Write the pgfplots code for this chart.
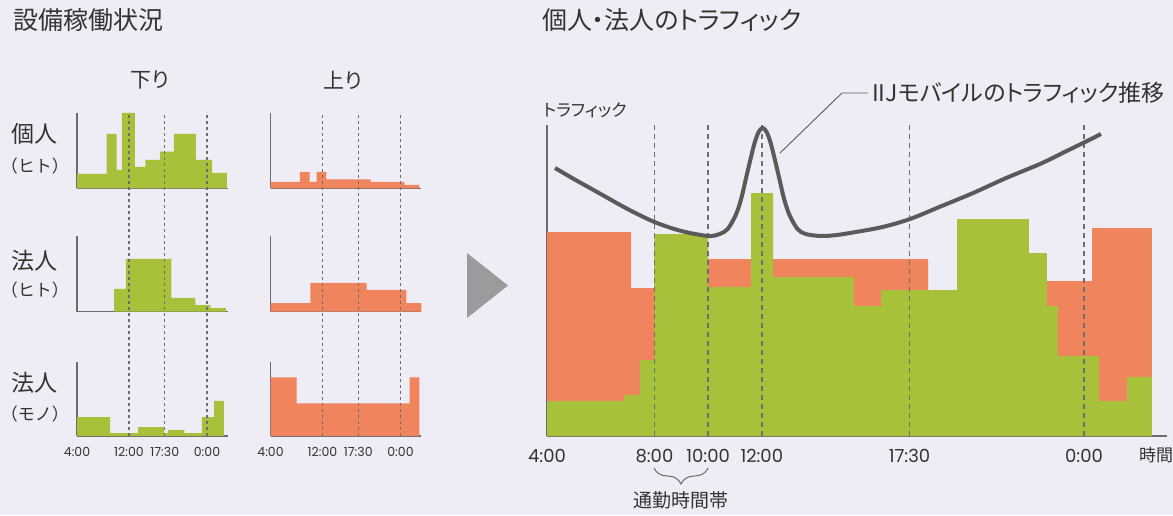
\documentclass[border=0pt]{standalone}
\usepackage{fontspec}
\setmainfont{Poppins}
\newfontfamily\jp[RawFeature=+palt]{Noto Sans CJK JP}
\newfontfamily\jpf{Noto Sans CJK JP}
\usepackage{pgfplots}
\pgfplotsset{compat=1.18}
\usetikzlibrary{decorations.pathreplacing}
\definecolor{bg}{HTML}{EEECF4}
\definecolor{grn}{HTML}{A8C13A}
\definecolor{org}{HTML}{F0855D}
\definecolor{axgray}{HTML}{6B6B6B}
\definecolor{curvegray}{HTML}{5A5A5A}
\definecolor{txt}{HTML}{333333}
\definecolor{dashgray}{HTML}{6E6E6E}
\definecolor{arrowgray}{HTML}{9B9B9B}
\pgfplotsset{
  small/.style={scale only axis, width=150.8pt, xmin=4, xmax=27.2, ymin=0,
    anchor=south west, axis x line*=bottom, axis y line*=left,
    axis line style={draw=axgray, line width=1.4pt},
    xtick=\empty, ytick=\empty, major tick length=0pt},
  smallticks/.style={xtick={4,12,17.5,24}, xticklabels={4:00,12:00,17:30,0:00},
    xticklabel style={font=\fontsize{12.5}{14}\selectfont, text=txt, anchor=base, yshift=-20pt}},
  gfill/.style={const plot, fill=grn, draw=none},
  ofill/.style={const plot, fill=org, draw=none},
  sdash/.style={draw=dashgray, line width=1.2pt, dash pattern=on 3pt off 3pt},
  bdash/.style={draw=dashgray, line width=1.6pt, dash pattern=on 5pt off 4pt},
}
\begin{document}
\begin{tikzpicture}
\fill[bg] (0pt,0pt) rectangle (1173pt,515pt);

% ---- small charts ----
% row 1
\begin{axis}[small, height=75.3pt, ymax=75.3, at={(77pt,326.7pt)}]
\addplot[gfill] coordinates {(4,14.3) (8.57,54.3) (10.1,18.3) (10.9,75.3) (12.9,21.3) (14.5,28.3) (16.8,36.7) (18.9,54.3) (22.3,28.3) (24.8,15.3) (27.05,15.3)} \closedcycle;
\end{axis}
\begin{axis}[small, height=75.3pt, ymax=75.3, at={(270.5pt,326.7pt)}]
\addplot[ofill] coordinates {(4,6.3) (8.5,16.3) (10.0,6.3) (11.1,16.3) (12.6,9) (19.4,6.3) (24.6,3.3) (26.9,3.3)} \closedcycle;
\end{axis}
% row 2
\begin{axis}[small, height=75.7pt, ymax=75.7, at={(77pt,203.3pt)}]
\addplot[gfill] coordinates {(9.7,22.7) (11.5,52.7) (18.5,13.7) (22.2,6.7) (24.5,3.7) (26.9,3.7)} \closedcycle;
\end{axis}
\begin{axis}[small, height=75.7pt, ymax=75.7, at={(270.5pt,203.3pt)}]
\addplot[ofill] coordinates {(4,8.7) (10.15,28.7) (18.8,21.7) (24.9,8.7) (27.2,8.7)} \closedcycle;
\end{axis}
% row 3
\begin{axis}[small, smallticks, height=74.3pt, ymax=74.3, at={(77pt,79pt)}]
\addplot[gfill] coordinates {(4,19) (9.1,3) (13.4,9) (17.4,3) (18.0,6) (20.5,3) (23.2,19) (25.1,35) (26.6,35)} \closedcycle;
\end{axis}
\begin{axis}[small, smallticks, height=74.3pt, ymax=74.3, at={(270.5pt,79pt)}]
\addplot[ofill] coordinates {(4,58.7) (8.0,32.7) (25.4,58.7) (26.9,58.7)} \closedcycle;
\end{axis}
% dashed guides across the small charts
\begin{axis}[scale only axis, width=150.8pt, height=324pt, xmin=4, xmax=27.2, ymin=0, ymax=324, at={(77pt,79pt)}, anchor=south west, hide axis]
\addplot[sdash] coordinates {(12,0) (12,324)};
\addplot[sdash] coordinates {(17.5,0) (17.5,324)};
\addplot[sdash] coordinates {(24,0) (24,324)};
\end{axis}
\begin{axis}[scale only axis, width=150.8pt, height=324pt, xmin=4, xmax=27.2, ymin=0, ymax=324, at={(270.5pt,79pt)}, anchor=south west, hide axis]
\addplot[sdash] coordinates {(12,0) (12,324)};
\addplot[sdash] coordinates {(17.5,0) (17.5,324)};
\addplot[sdash] coordinates {(24,0) (24,324)};
\end{axis}

% ---- big chart ----
\begin{axis}[scale only axis, width=620pt, height=311pt, xmin=4, xmax=27.09, ymin=0, ymax=311,
  at={(547pt,79pt)}, anchor=south west, axis x line*=bottom, axis y line*=left,
  axis line style={draw=axgray, line width=1.5pt}, clip=false,
  xtick={4,8,10,12,17.5,24}, xticklabels={4:00,8:00,10:00,12:00,17:30,0:00},
  major tick length=0pt, ytick=\empty,
  xticklabel style={font=\fontsize{18}{20}\selectfont, text=txt, anchor=base, yshift=-26pt}]
\addplot[ofill] coordinates {(4,204) (7.13,148) (8,190) (10,177) (18.19,140) (22.62,155) (24.3,208) (26.53,208)} \closedcycle;
\addplot[gfill] coordinates {(4,35) (6.87,41) (7.46,76) (8,202) (10,149) (11.6,243) (12.42,159) (15.43,130) (16.44,146) (19.27,217) (21.95,183) (22.62,130) (23.03,80) (24.56,35) (25.6,59) (26.53,59)} \closedcycle;
\addplot[bdash] coordinates {(8,0) (8,311)};
\addplot[bdash] coordinates {(10,0) (10,311)};
\addplot[bdash] coordinates {(12,0) (12,311)};
\addplot[bdash] coordinates {(17.5,0) (17.5,311)};
\addplot[bdash] coordinates {(24,0) (24,311)};
\addplot[smooth, line width=4pt, draw=curvegray] coordinates {(4.3,268) (5.0,257) (6.0,242) (7.0,227) (8.0,214) (9.0,205) (10.0,200) (10.43,202) (10.73,207) (11.03,221) (11.23,237) (11.43,260) (11.58,277) (11.73,293) (11.88,304) (12.03,308) (12.18,304) (12.33,293) (12.48,277) (12.63,260) (12.83,237) (13.03,221) (13.33,207) (13.63,202) (14.2,200) (14.8,201) (15.5,204) (16.5,209) (17.52,217) (18.7,230) (19.87,243) (21.1,258) (22.36,272) (23.2,283) (24.04,294) (24.63,302)};
\end{axis}

% ---- texts ----
\node[anchor=west, text=txt, font=\jp\fontsize{25}{28}\selectfont, inner sep=0] at (13pt,495pt) {設備稼働状況};
\node[anchor=west, text=txt, font=\jp\fontsize{25}{28}\selectfont, inner sep=0] at (542pt,495pt) {個人・法人のトラフィック};
\node[text=txt, font=\jp\fontsize{21}{24}\selectfont, inner sep=0] at (150pt,435pt) {下り};
\node[text=txt, font=\jp\fontsize{21}{24}\selectfont, inner sep=0] at (343pt,435pt) {上り};
\node[text=txt, font=\jp\fontsize{23}{26}\selectfont, inner sep=0] at (35pt,381pt) {個人};
\node[text=txt, font=\jpf\fontsize{17}{20}\selectfont, inner sep=0] at (35pt,349pt) {（ヒト）};
\node[text=txt, font=\jp\fontsize{23}{26}\selectfont, inner sep=0] at (35pt,254pt) {法人};
\node[text=txt, font=\jpf\fontsize{17}{20}\selectfont, inner sep=0] at (35pt,225pt) {（ヒト）};
\node[text=txt, font=\jp\fontsize{23}{26}\selectfont, inner sep=0] at (35pt,132pt) {法人};
\node[text=txt, font=\jpf\fontsize{17}{20}\selectfont, inner sep=0] at (35pt,101pt) {（モノ）};
\node[anchor=west, text=txt, font=\jp\fontsize{17}{20}\selectfont, inner sep=0] at (543pt,405pt) {トラフィック};
\node[anchor=west, text=txt, font=\jp\fontsize{23}{26}\selectfont, inner sep=0] at (872pt,422pt) {IIJモバイルのトラフィック推移};
\draw[curvegray, line width=0.9pt] (780pt,362pt) -- (842pt,422pt) -- (868pt,422pt);
\node[anchor=west, text=txt, font=\jp\fontsize{17}{20}\selectfont, inner sep=0] at (1139pt,60pt) {時間};
\node[text=txt, font=\jp\fontsize{19}{22}\selectfont, inner sep=0] at (681pt,15pt) {通勤時間帯};
\draw[axgray, line width=1pt, decorate, decoration={brace, mirror, amplitude=16pt}] (654pt,47pt) -- (708pt,47pt);
% arrow
\fill[arrowgray] (467pt,262pt) -- (467pt,197pt) -- (508pt,229.5pt) -- cycle;

\pgfresetboundingbox
\useasboundingbox (0pt,0pt) rectangle (1173pt,515pt);
\end{tikzpicture}
\end{document}
